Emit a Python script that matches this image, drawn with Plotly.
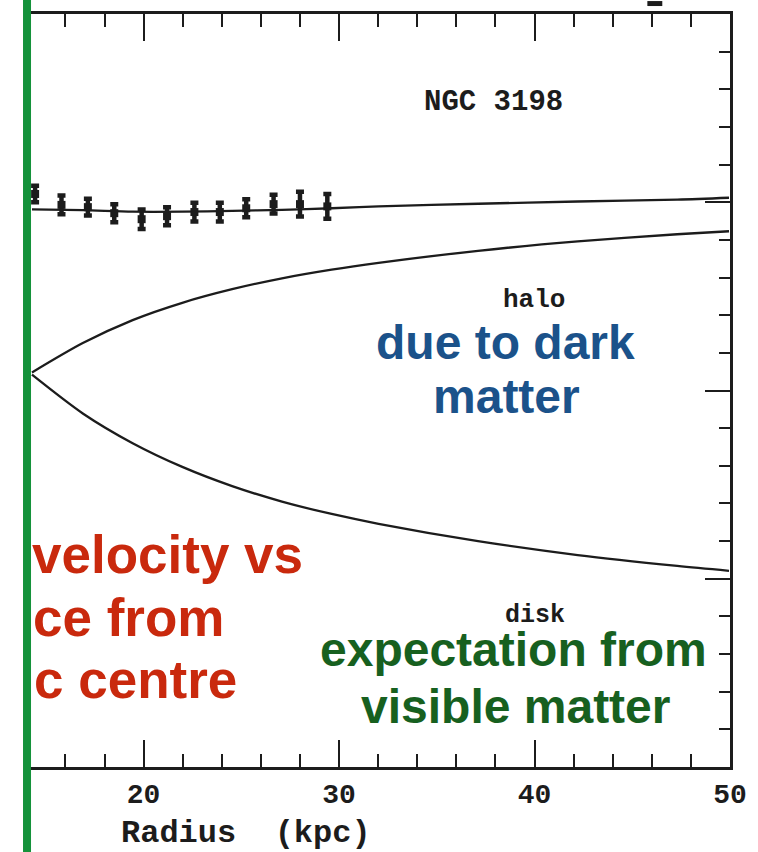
import plotly.graph_objects as go

# ---- NGC 3198 rotation curve: observed velocities and the disk + halo model ----
radius_obs = [14.45, 15.8, 17.15, 18.5, 19.9, 21.2, 22.6, 23.9, 25.25, 26.65, 28.0, 29.4]
vel_obs = [152.2, 149.3, 148.7, 147.1, 145.5, 146.3, 147.4, 147.4, 148.4, 149.5, 149.5, 148.9]
vel_err = [2.2, 2.5, 2.2, 2.4, 2.6, 2.4, 2.5, 2.5, 2.4, 2.5, 3.3, 3.3]

radius_model = [14.29, 16.89, 19.44, 21.98, 24.53, 27.08, 29.62, 32.02, 37.11, 42.21, 47.3, 49.95]
vel_halo = [104.8, 112.6, 118.7, 123.3, 126.9, 129.8, 132.1, 133.9, 137.1, 139.6, 141.5, 142.3]
vel_disk = [104.2, 93.9, 86.0, 79.7, 74.6, 70.5, 67.2, 64.6, 60.0, 56.3, 53.4, 52.1]
vel_total = [148.1, 147.9, 147.5, 147.5, 147.7, 148.0, 148.4, 148.9, 149.6, 150.2, 150.7, 151.2]

x_ticks = [20, 30, 40, 50]
x_range = [14.24, 50]
y_range = [0, 200]

# ---- page geometry ----
W, H = 758, 852
ML, MR, MT, MB = 31, 25, 11, 85
PW, PH = W - ML - MR, H - MT - MB


def to_paper(xp, yp):
    """Convert page pixels into paper coordinates of the plotting area."""
    return (xp - ML) / PW, (H - MB - yp) / PH


INK = "#1c1c1c"
MONO = "Liberation Mono, Courier New, monospace"
SANS = "Liberation Sans, Arial, Helvetica, sans-serif"

fig = go.Figure()

line_style = dict(color=INK, width=2.3, shape="spline", smoothing=0.8)
fig.add_trace(go.Scatter(x=radius_model, y=vel_total, mode="lines", line=line_style))
fig.add_trace(go.Scatter(x=radius_model, y=vel_halo, mode="lines", line=line_style))
fig.add_trace(go.Scatter(x=radius_model, y=vel_disk, mode="lines", line=line_style))

fig.add_trace(go.Scatter(
    x=radius_obs, y=vel_obs, mode="markers",
    marker=dict(symbol="square", size=8, color=INK),
    error_y=dict(type="data", array=vel_err, visible=True,
                 color=INK, thickness=4.5, width=4),
))

axis_common = dict(showgrid=False, zeroline=False, showline=True,
                   linecolor=INK, linewidth=2.5, ticks="inside",
                   tickcolor=INK, tickwidth=2)

fig.update_xaxes(
    **axis_common, range=x_range, tickmode="array", tickvals=x_ticks,
    ticktext=[str(v) for v in x_ticks], ticklen=27, mirror="ticks",
    minor=dict(dtick=2, tick0=0, ticks="inside", ticklen=13,
               tickcolor=INK, tickwidth=2),
    tickfont=dict(family=MONO, size=28, color=INK, weight="bold"),
    ticklabelstandoff=0,
)
fig.update_yaxes(
    **axis_common, range=y_range, side="right", dtick=50, tick0=0,
    ticklen=25, showticklabels=False,
    minor=dict(dtick=10, tick0=0, ticks="inside", ticklen=11,
               tickcolor=INK, tickwidth=2),
)

annotations = [
    dict(x=37.88, y=176.4, xref="x", yref="y", text="NGC 3198",
         font=dict(family=MONO, size=29, color=INK, weight="bold")),
    dict(x=39.97, y=124.1, xref="x", yref="y", text="halo",
         font=dict(family=MONO, size=26, color=INK, weight="bold")),
    dict(x=40.04, y=40.3, xref="x", yref="y", text="disk",
         font=dict(family=MONO, size=25, color=INK, weight="bold")),
]

ax, ay = to_paper(119, 833.5)
annotations.append(dict(x=ax, y=ay, xref="paper", yref="paper", xanchor="left",
                        yanchor="middle", text="Radius\u00a0\u00a0(kpc)",
                        font=dict(family=MONO, size=32, color=INK, weight="bold")))

# overlaid explanatory captions
captions = [
    ("velocity vs", 30, 553.6, "left", 53, "#c9290d"),
    ("ce from", 31, 616.6, "left", 53, "#c9290d"),
    ("c centre", 32, 679.6, "left", 53, "#c9290d"),
    ("due to dark", 508, 340.4, "center", 48, "#1b528a"),
    ("matter", 509, 395.4, "center", 48, "#1b528a"),
    ("expectation from", 515.5, 649.4, "center", 48, "#17601f"),
    ("visible matter", 517.5, 706.0, "center", 48, "#17601f"),
]
for text, xp, yp, anchor, size, color in captions:
    px_, py_ = to_paper(xp, yp)
    annotations.append(dict(x=px_, y=py_, xref="paper", yref="paper",
                            xanchor=anchor, yanchor="middle", text=text,
                            font=dict(family=SANS, size=size, color=color,
                                      weight="bold")))

for a in annotations:
    a["showarrow"] = False
    a.setdefault("yanchor", "middle")
    a.setdefault("xanchor", "center")

# green vertical rule along the left edge and a small ink fragment at the top
gx, _ = to_paper(27, 0)
_, gy_top = to_paper(0, -20)
_, gy_bot = to_paper(0, H + 20)
bx0, by0 = to_paper(650, 3)
bx1, by1 = to_paper(665, -2)
shapes = [
    dict(type="line", xref="paper", yref="paper", x0=gx, x1=gx, y0=gy_bot,
         y1=gy_top, line=dict(color="#15923a", width=8), layer="above"),
    dict(type="rect", xref="paper", yref="paper", x0=bx0, x1=bx1, y0=by0,
         y1=by1, fillcolor=INK, line=dict(width=0)),
]

fig.update_layout(
    width=W, height=H, margin=dict(l=ML, r=MR, t=MT, b=MB),
    paper_bgcolor="white", plot_bgcolor="white", showlegend=False,
    annotations=annotations, shapes=shapes,
)

fig.write_html("out.html")
